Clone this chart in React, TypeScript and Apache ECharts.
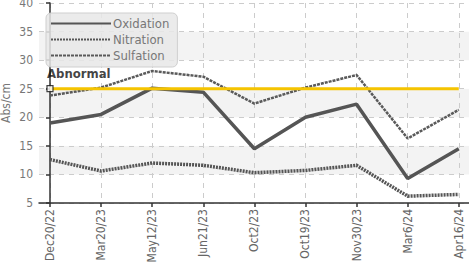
import React, { useEffect, useRef } from "react";
import * as echarts from "echarts";

const categories = ["Dec20/22", "Mar20/23", "May12/23", "Jun21/23", "Oct2/23", "Oct19/23", "Nov30/23", "Mar6/24", "Apr16/24"];
const oxidation = [19.0, 20.5, 25.1, 24.4, 14.5, 20.0, 22.3, 9.3, 14.5];
const nitration = [12.6, 10.6, 12.0, 11.6, 10.3, 10.7, 11.6, 6.2, 6.5];
const sulfation = [23.8, 25.2, 28.1, 27.1, 22.4, 25.2, 27.4, 16.3, 21.3];
const abnormal = 25;
const yTicks = [5, 10, 15, 20, 25, 30, 35, 40];

const FONT = "'Liberation Sans Narrow', 'DejaVu Sans Condensed', 'Roboto', sans-serif";

export default function App() {
  const ref = useRef<HTMLDivElement>(null);
  useEffect(() => {
    if (!ref.current) return;
    const chart = echarts.init(ref.current, null, { renderer: "svg" });
    const idx = categories.map((_, i) => i);
    const toPts = (arr: number[]) => arr.map((v, i) => [i, v]);
    chart.setOption({
      animation: false,
      textStyle: { fontFamily: FONT },
      grid: { left: 39, right: 0, top: 3, bottom: 64, outerBoundsMode: "none", containLabel: false },
      legend: {
        data: ["Oxidation", "Nitration", "Sulfation"],
        orient: "vertical",
        left: 46,
        top: 13,
        itemWidth: 60,
        itemHeight: 14,
        itemGap: 3,
        padding: [4, 8, 5, 4],
        backgroundColor: "rgba(232,232,232,0.85)",
        borderColor: "#cfcfcf",
        borderWidth: 1,
        borderRadius: 5,
        itemStyle: { opacity: 0 },
        textStyle: { color: "#777", fontSize: 13, fontFamily: FONT, padding: [0, 0, 0, -3] },
      },
      xAxis: {
        type: "value",
        min: -0.215,
        max: 8.2,
        axisLine: { show: true, lineStyle: { color: "#333", width: 1.5 } },
        axisTick: { show: true, customValues: idx, length: 4, lineStyle: { color: "#333", width: 1.5 } },
        axisLabel: {
          customValues: idx,
          rotate: 90,
          color: "#666",
          fontSize: 12,
          fontFamily: FONT,
          margin: 6,
          formatter: (v: number) => categories[Math.round(v)] ?? "",
        },
        splitLine: { show: true, lineStyle: { color: "#ccc", type: [5, 5] } },
      },
      yAxis: {
        type: "value",
        min: 5,
        max: 40,
        interval: 5,
        name: "Abs/cm",
        nameLocation: "middle",
        nameGap: 27,
        nameMoveOverlap: false,
        nameTextStyle: { color: "#777", fontSize: 12, fontFamily: FONT },
        axisLine: { show: true, lineStyle: { color: "#333", width: 1.5 } },
        axisTick: { show: true, length: 4, lineStyle: { color: "#333", width: 1.5 } },
        axisLabel: { color: "#777", fontSize: 12, fontFamily: FONT, margin: 6, customValues: yTicks },
        splitLine: { show: true, lineStyle: { color: "#ccc", type: [5, 5] } },
        splitArea: { show: true, areaStyle: { color: ["#ffffff", "#f3f3f3"] } },
      },
      series: [
        {
          name: "Oxidation",
          type: "line",
          data: toPts(oxidation),
          symbol: "none",
          color: "#555",
          lineStyle: { color: "#555", width: 3.5 },
        },
        {
          name: "Nitration",
          type: "line",
          data: toPts(nitration),
          symbol: "none",
          color: "#555",
          lineStyle: { color: "#555", width: 3.5, type: [2, 1] },
        },
        {
          name: "Sulfation",
          type: "line",
          data: toPts(sulfation),
          symbol: "none",
          color: "#5a5a5a",
          lineStyle: { color: "#5a5a5a", width: 2.5, type: [3, 1] },
        },
        {
          name: "AbnormalLine",
          type: "line",
          data: idx.map((i) => [i, abnormal]),
          symbol: "none",
          lineStyle: { color: "#f5c400", width: 3 },
          z: 5,
        },
        {
          name: "AbnormalMark",
          type: "scatter",
          data: [[0, abnormal]],
          symbol: "rect",
          symbolSize: 6,
          itemStyle: { color: "#fff", borderColor: "#111", borderWidth: 1.2 },
          label: {
            show: true,
            formatter: "Abnormal",
            position: "top",
            align: "left",
            offset: [-3, 0],
            color: "#111",
            fontWeight: "bold",
            fontSize: 13,
            fontFamily: FONT,
          },
          z: 6,
        },
      ],
    });
    return () => chart.dispose();
  }, []);
  return <div ref={ref} style={{ position: "absolute", left: 0, top: 0, width: 469, height: 267 }} />;
}
